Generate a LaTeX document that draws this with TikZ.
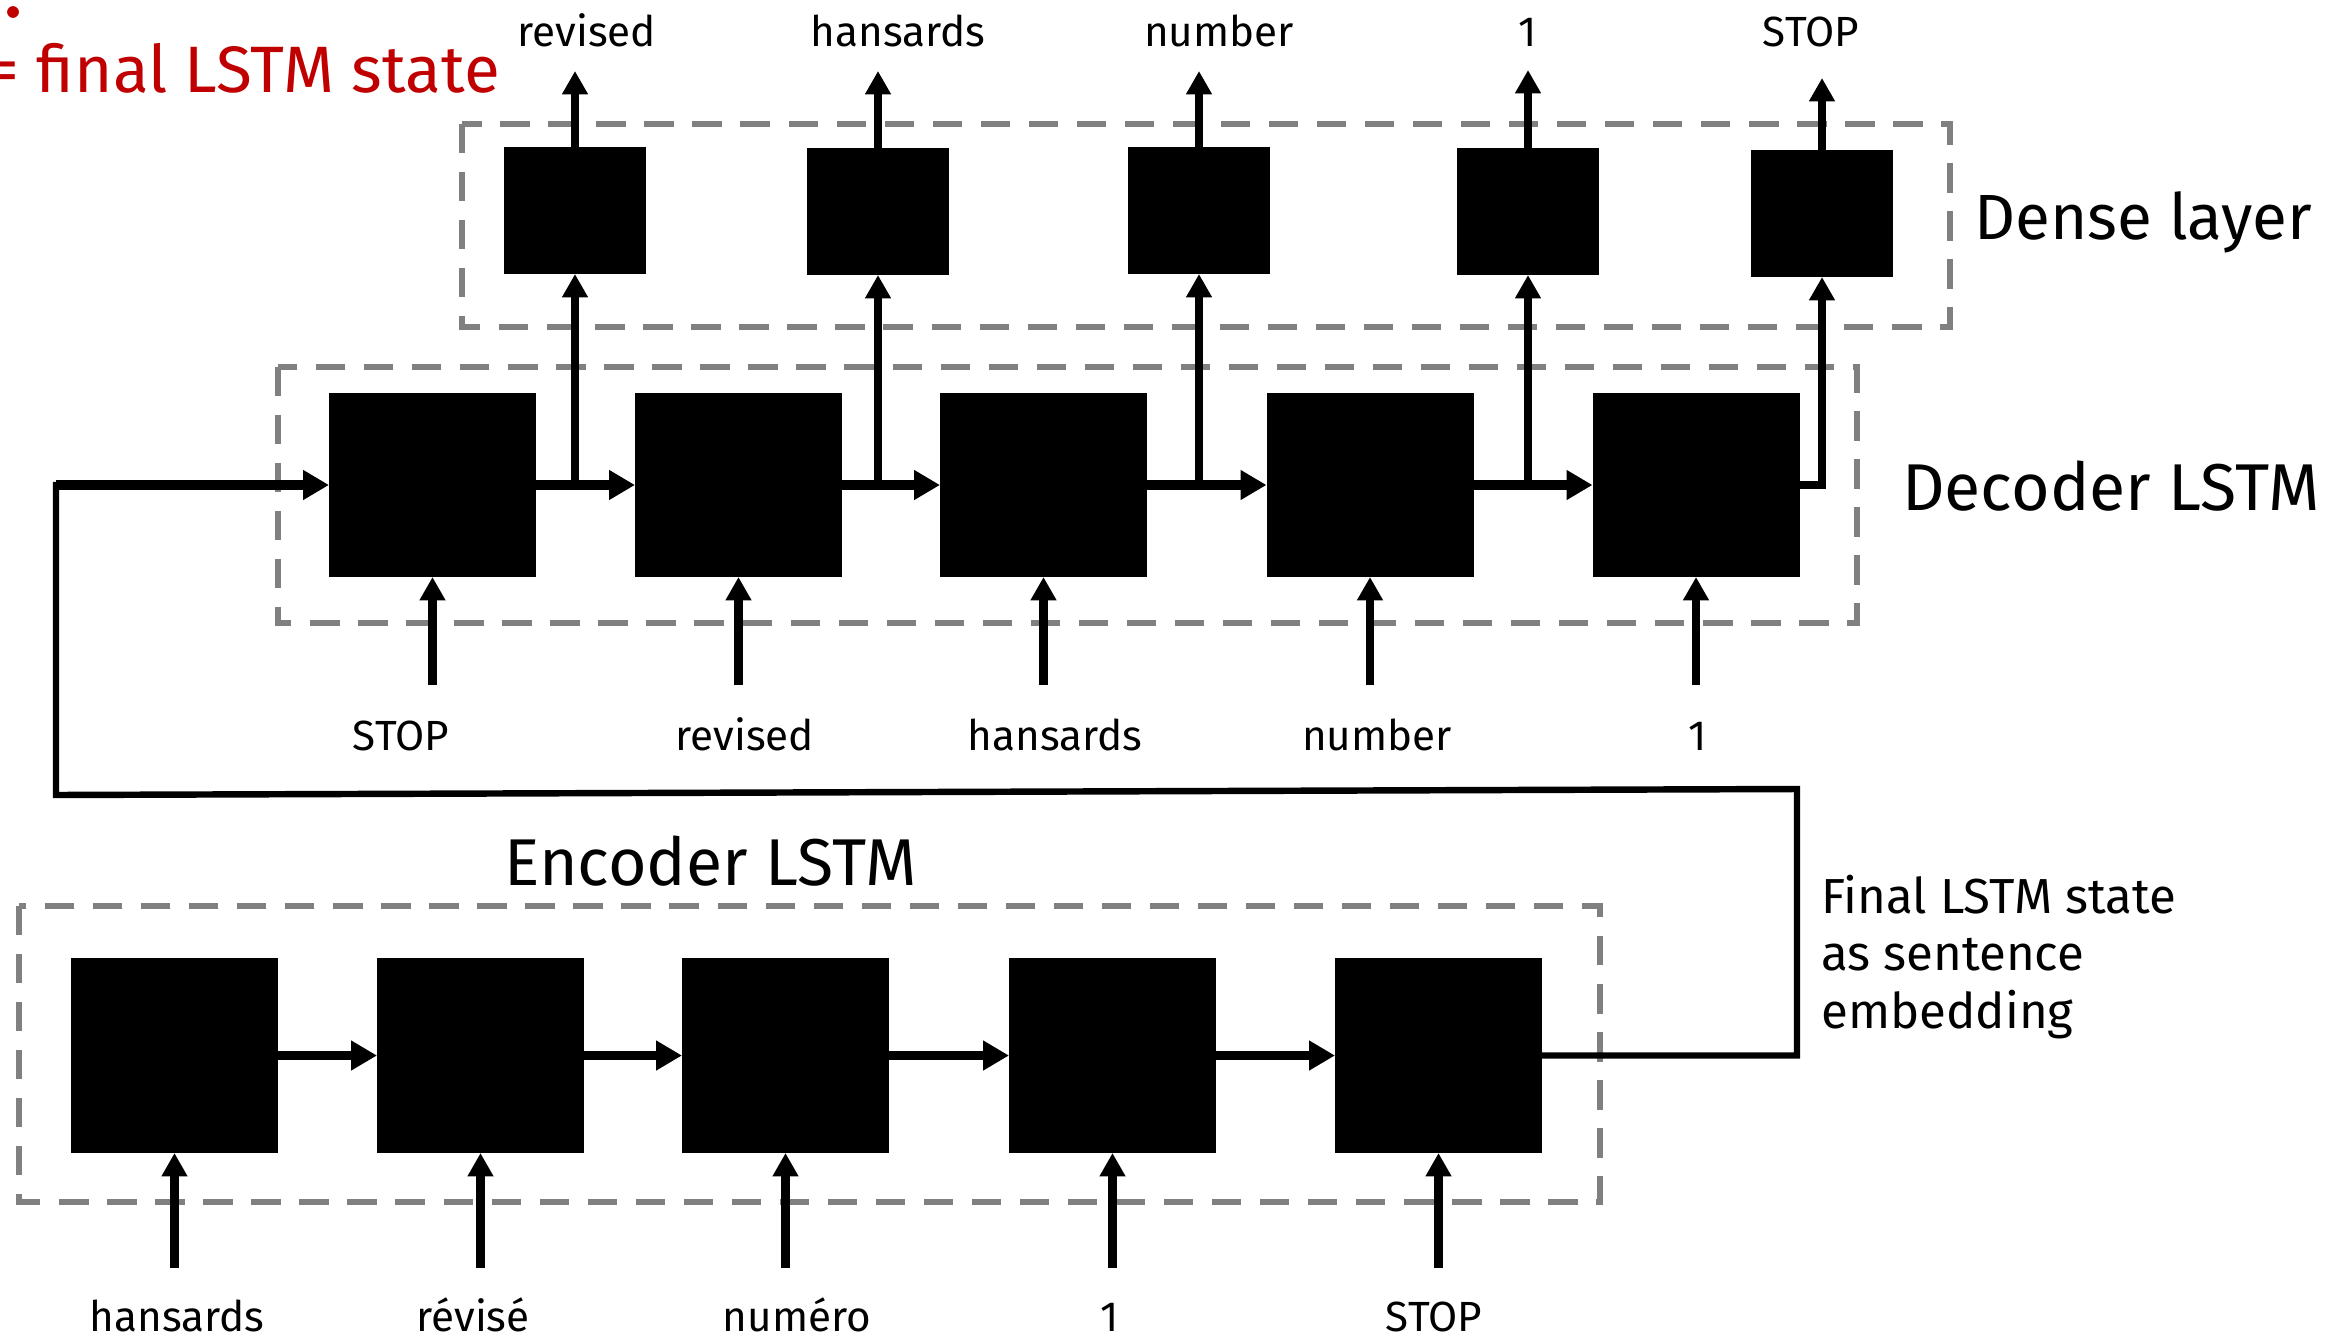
\documentclass[tikz,border=0pt]{standalone}
\usepackage{fontspec}
\setmainfont{Fira Sans}
\usetikzlibrary{arrows.meta}
\definecolor{dgray}{RGB}{128,128,128}
\definecolor{dred}{RGB}{192,0,0}
\begin{document}
\begin{tikzpicture}[x=0.03cm,y=-0.03cm,
  blk/.style={fill=black,draw=none,inner sep=0,outer sep=0},
  encblk/.style={blk,minimum width=6.21cm,minimum height=5.85cm},
  decblk/.style={blk,minimum width=6.21cm,minimum height=5.52cm},
  denblk/.style={blk,minimum width=4.26cm,minimum height=3.81cm},
  harr/.style={line width=8.5pt,-{Triangle[length=22pt,width=24pt]}},
  varr/.style={line width=7.5pt,-{Triangle[length=20pt,width=21pt]}},
  loopline/.style={line width=5.5pt},
  dbox/.style={draw=dgray,line width=4.7pt,dash pattern=on 25pt off 16pt},
  lbl/.style={font=\fontsize{36}{43}\selectfont,inner sep=0,anchor=base},
  ttl/.style={inner sep=0,anchor=base west},
  note/.style={font=\fontsize{42}{48.7}\selectfont,inner sep=0,anchor=base west,align=left},
]
\useasboundingbox (0,0) rectangle (2326,1340);

% dashed groups
\draw[dbox] (462,124) rectangle (1950,327);
\draw[dbox] (278,367) rectangle (1857,623);
\draw[dbox] (19,906) rectangle (1600,1202);

% dense layer boxes
\node[denblk] (n1) at (575,210.5) {};
\node[denblk] (n2) at (878,211.5) {};
\node[denblk] (n3) at (1199,210.5) {};
\node[denblk] (n4) at (1528,211.5) {};
\node[denblk] (n5) at (1822,213.5) {};

% decoder boxes
\node[decblk] (d1) at (432.5,485) {};
\node[decblk] (d2) at (738.5,485) {};
\node[decblk] (d3) at (1043.5,485) {};
\node[decblk] (d4) at (1370,485) {};
\node[decblk] (d5) at (1696,485) {};

% encoder boxes
\node[encblk] (e1) at (174.5,1055.5) {};
\node[encblk] (e2) at (480.5,1055.5) {};
\node[encblk] (e3) at (785.5,1055.5) {};
\node[encblk] (e4) at (1112.5,1055.5) {};
\node[encblk] (e5) at (1438.5,1055.5) {};

% output arrows
\coordinate (t1) at (575,71);
\coordinate (t2) at (878,71);
\coordinate (t3) at (1199,71);
\coordinate (t4) at (1528,70);
\coordinate (t5) at (1822,78);
\foreach \i in {1,...,5} {\draw[varr] (n\i.north) -- (t\i);}

% output labels
\node[lbl] (o1) at (587,46) {revised};
\node[lbl] (o2) at (898,46) {hansards};
\node[lbl] (o3) at (1219,46) {number};
\node[lbl] (o4) at (1528,46) {1};
\node[lbl] (o5) at (1811,46) {STOP};

% decoder chain
\draw[harr] (d1.east) -- (d2.west);
\draw[harr] (d2.east) -- (d3.west);
\draw[harr] (d3.east) -- (d4.west);
\draw[harr] (d4.east) -- (d5.west);
\draw[varr] (n1.south |- d1.east) -- (n1.south);
\draw[varr] (n2.south |- d2.east) -- (n2.south);
\draw[varr] (n3.south |- d3.east) -- (n3.south);
\draw[varr] (n4.south |- d4.east) -- (n4.south);
\draw[varr] (d5.east) -| (n5.south);

% decoder inputs
\coordinate (di1) at (432.5,685);
\coordinate (di2) at (738.5,685);
\coordinate (di3) at (1043.5,685);
\coordinate (di4) at (1370,685);
\coordinate (di5) at (1696,685);
\foreach \i in {1,...,5} {\draw[varr] (di\i) -- (d\i.south);}
\node[lbl] (dl1) at (401,750) {STOP};
\node[lbl] (dl2) at (745,750) {revised};
\node[lbl] (dl3) at (1055,750) {hansards};
\node[lbl] (dl4) at (1377,750) {number};
\node[lbl] (dl5) at (1698,750) {1};

% encoder chain
\draw[harr] (e1.east) -- (e2.west);
\draw[harr] (e2.east) -- (e3.west);
\draw[harr] (e3.east) -- (e4.west);
\draw[harr] (e4.east) -- (e5.west);

% encoder inputs
\coordinate (ei1) at (174.5,1268);
\coordinate (ei2) at (480.5,1268);
\coordinate (ei3) at (785.5,1268);
\coordinate (ei4) at (1112.5,1268);
\coordinate (ei5) at (1438.5,1268);
\foreach \i in {1,...,5} {\draw[varr] (ei\i) -- (e\i.south);}
\node[lbl] (el1) at (177,1331) {hansards};
\node[lbl] (el2) at (473,1331) {révisé};
\node[lbl] (el3) at (797,1331) {numéro};
\node[lbl] (el4) at (1110,1331) {1};
\node[lbl] (el5) at (1434,1331) {STOP};

% final state loop
\coordinate (c1) at (1797,789);
\coordinate (c2) at (56,795);
\draw[loopline,line join=miter] (e5.east) -| (c1) -- (c2) -- (c2 |- d1.west) -- (d1.west -| 250,0);
\draw[harr] (d1.west -| 56,0) -- (d1.west);

% titles
\node[ttl,font=\fontsize{54.5}{60}\selectfont] (tden) at (1974,239) {Dense layer};
\node[ttl,font=\fontsize{56.5}{60}\selectfont] (tdec) at (1902,510) {Decoder LSTM};
\node[ttl,font=\fontsize{56.5}{60}\selectfont] (tenc) at (504,885) {Encoder LSTM};
\node[note] (tfin) at (1821,1028) {Final LSTM state\\as sentence\\embedding};

% red caption
\node[font=\fontsize{56}{60}\selectfont,text=dred,inner sep=0,anchor=base east] (red) at (500,92) {= final LSTM state};
\fill[dred] (13,12) circle[radius=5pt];
\end{tikzpicture}
\end{document}
